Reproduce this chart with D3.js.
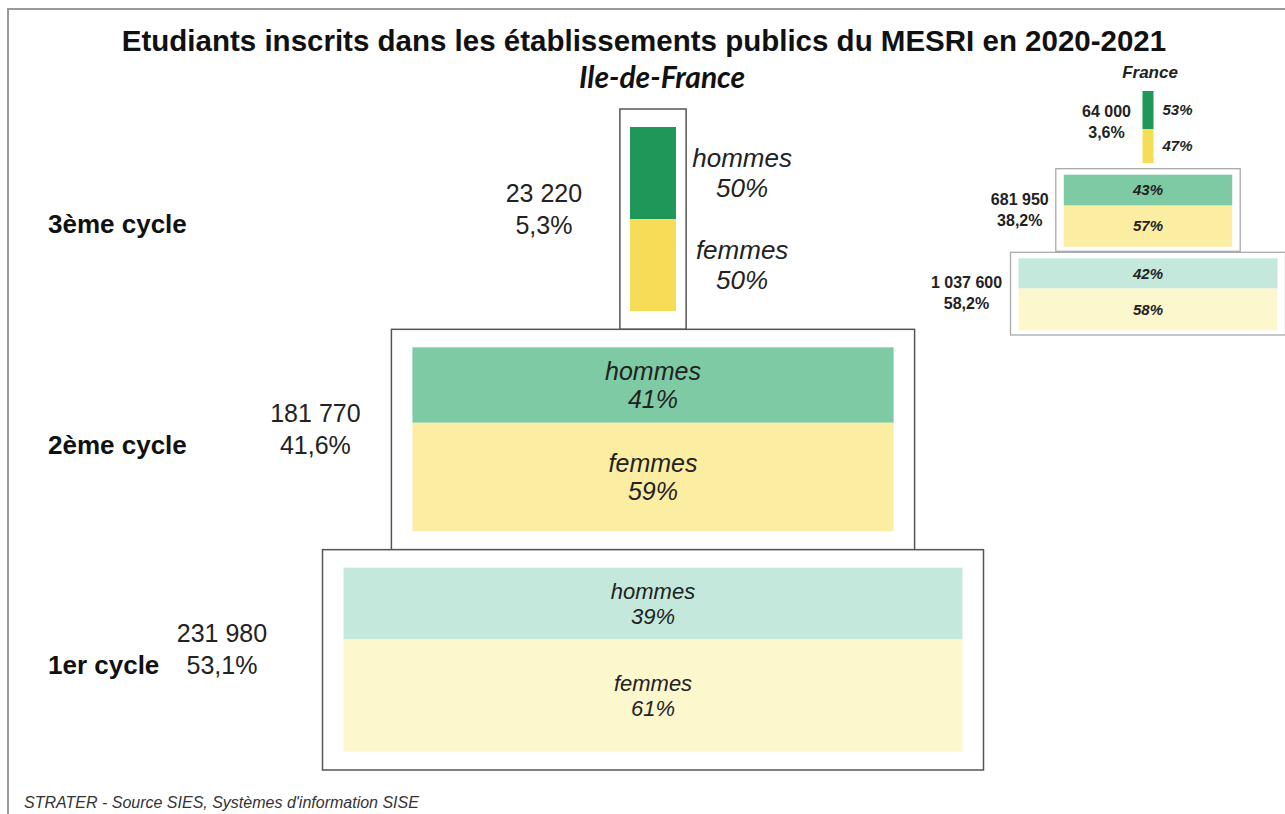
<!DOCTYPE html>
<html>
<head>
<meta charset="utf-8">
<script src="https://cdn.jsdelivr.net/npm/d3@7"></script>
<style>
  html, body { margin: 0; padding: 0; background: #fff; }
  svg { display: block; font-family: "Liberation Sans", Arial, sans-serif; }
</style>
</head>
<body>
<svg id="chart" width="1285" height="814"></svg>
<script>
// ---------- DATA ----------
const levels = ["3ème cycle", "2ème cycle", "1er cycle"];
const idfCounts = [23220, 181770, 231980];
const idfShares = [5.3, 41.6, 53.1];
const idfHommes = [50, 41, 39];
const idfFemmes = [50, 59, 61];
const frCounts = [64000, 681950, 1037600];
const frShares = [3.6, 38.2, 58.2];
const frHommes = [53, 43, 42];
const frFemmes = [47, 57, 58];
const titleText = "Etudiants inscrits dans les établissements publics du MESRI en 2020-2021";
const subtitleText = "Ile-de-France";
const insetTitle = "France";
const sourceText = "STRATER - Source SIES, Systèmes d'information SISE";
const sexLabels = ["hommes", "femmes"];

// ---------- STYLE ----------
const hommesColors = ["#1e9758", "#7dcaa4", "#c4e9dc"];
const femmesColors = ["#f7dc58", "#fbeea3", "#fdf7ce"];

const fr = d3.formatLocale({ decimal: ",", thousands: " ", grouping: [3], currency: ["", " €"] });
const fmtCount = fr.format(",d");
const fmtShare = v => fr.format(".1f")(v) + "%";

const svg = d3.select("#chart");

// outer frame
svg.append("rect").attr("x", 8).attr("y", 9).attr("width", 1300).attr("height", 830)
  .attr("fill", "none").attr("stroke", "#9a9a9a").attr("stroke-width", 2);

// titles
svg.append("text").attr("x", 644).attr("y", 51).attr("text-anchor", "middle")
  .attr("font-size", 29.5).attr("font-weight", "bold").attr("fill", "#111").text(titleText);
svg.append("text").attr("x", 662).attr("y", 88).attr("text-anchor", "middle")
  .attr("font-family", "Lato, 'Open Sans', sans-serif")
  .attr("font-size", 30).attr("font-weight", "bold").attr("font-style", "italic")
  .attr("fill", "#111").text(subtitleText);

// source
svg.append("text").attr("x", 24).attr("y", 808)
  .attr("font-size", 16).attr("font-style", "italic").attr("fill", "#333").text(sourceText);

function rows(counts, shares, hommes, femmes) {
  return levels.map((l, i) => ({ level: l, i, count: counts[i], share: shares[i], h: hommes[i], f: femmes[i] }));
}

// ---------- MAIN PYRAMID (Ile-de-France) ----------
(function () {
  const data = rows(idfCounts, idfShares, idfHommes, idfFemmes);
  const cx = 653;
  const y = d3.scaleBand().domain(levels).range([109, 770]);
  const w = d3.scaleLinear().domain([23220, 231980]).range([46, 619]);
  const innerTop = 18, innerH = 184;
  const split = d3.scaleLinear().domain([0, 100]).range([0, innerH]);

  const g = svg.append("g");
  const row = g.selectAll("g.row").data(data).join("g").attr("class", "row");

  row.each(function (d) {
    const sel = d3.select(this);
    const bw = w(d.count);
    const hpad = Math.min(21, bw * 0.22);
    const x0 = cx - bw / 2;
    const top = y(d.level);
    const boxX = x0 - hpad;
    sel.append("rect").attr("x", boxX).attr("y", top)
      .attr("width", bw + 2 * hpad).attr("height", y.bandwidth())
      .attr("fill", "#fff").attr("stroke", "#555").attr("stroke-width", 1.5);
    const hy = top + innerTop, hh = split(d.h);
    const fy = hy + hh, fh = split(d.f);
    sel.append("rect").attr("x", x0).attr("y", hy).attr("width", bw).attr("height", hh)
      .attr("fill", hommesColors[d.i]);
    sel.append("rect").attr("x", x0).attr("y", fy).attr("width", bw).attr("height", fh)
      .attr("fill", femmesColors[d.i]);

    const fs = d.i === 2 ? 22 : (d.i === 1 ? 25 : 26);
    const outside = bw < 150;
    const tx = outside ? x0 + bw + hpad + 56 : cx;
    [[sexLabels[0], d.h, hy + hh / 2], [sexLabels[1], d.f, fy + fh / 2]].forEach(([lab, v, c]) => {
      const t = sel.append("text").attr("x", tx).attr("y", c).attr("text-anchor", "middle")
        .attr("font-size", fs).attr("font-style", "italic").attr("fill", "#222");
      t.append("tspan").attr("x", tx).attr("dy", "-0.22em").text(lab);
      t.append("tspan").attr("x", tx).attr("dy", "1.15em").text(v + "%");
    });

    // level label
    const mid = top + y.bandwidth() / 2;
    sel.append("text").attr("x", 48).attr("y", mid + 14)
      .attr("font-size", 26).attr("font-weight", "bold").attr("fill", "#111").text(d.level);

    // count and share
    const vx = d.i === 2 ? 222 : boxX - 76;
    const vt = sel.append("text").attr("x", vx).attr("y", mid - 12).attr("text-anchor", "middle")
      .attr("font-size", 25).attr("fill", "#222");
    vt.append("tspan").attr("x", vx).attr("dy", "-0.22em").text(fmtCount(d.count));
    vt.append("tspan").attr("x", vx).attr("dy", "1.28em").text(fmtShare(d.share));
  });
})();

// ---------- INSET (France) ----------
(function () {
  const data = rows(frCounts, frShares, frHommes, frFemmes);
  const cx = 1148;
  const y = d3.scaleBand().domain(levels).range([84, 335]);
  const w = d3.scaleLinear().domain([64000, 1037600]).range([11, 259]);
  const innerTop = 7, innerH = 72;
  const split = d3.scaleLinear().domain([0, 100]).range([0, innerH]);

  svg.append("text").attr("x", 1150).attr("y", 78).attr("text-anchor", "middle")
    .attr("font-size", 17).attr("font-weight", "bold").attr("font-style", "italic")
    .attr("fill", "#222").text(insetTitle);

  const g = svg.append("g");
  g.selectAll("g.row").data(data).join("g").attr("class", "row").each(function (d) {
    const sel = d3.select(this);
    const bw = w(d.count);
    const x0 = cx - bw / 2;
    const top = y(d.level);
    const narrow = bw < 30;
    const hpad = narrow ? 0 : 8;
    if (!narrow) {
      sel.append("rect").attr("x", x0 - hpad).attr("y", top + 1)
        .attr("width", bw + 2 * hpad).attr("height", y.bandwidth() - 1)
        .attr("fill", "#fff").attr("stroke", "#aaa").attr("stroke-width", 1.3);
    }
    const hy = top + innerTop, hh = split(d.h);
    const fy = hy + hh, fh = split(d.f);
    sel.append("rect").attr("x", x0).attr("y", hy).attr("width", bw).attr("height", hh)
      .attr("fill", hommesColors[d.i]);
    sel.append("rect").attr("x", x0).attr("y", fy).attr("width", bw).attr("height", fh)
      .attr("fill", femmesColors[d.i]);

    const tx = narrow ? x0 + bw + 9 : cx;
    const anchor = narrow ? "start" : "middle";
    [[d.h, hy + hh / 2], [d.f, fy + fh / 2]].forEach(([v, c]) => {
      sel.append("text").attr("x", tx).attr("y", c).attr("dy", "0.35em").attr("text-anchor", anchor)
        .attr("font-size", 15).attr("font-weight", "bold").attr("font-style", "italic")
        .attr("fill", "#222").text(v + "%");
    });

    const mid = top + y.bandwidth() / 2;
    const rx = x0 - hpad - (d.i === 2 ? 44 : 36);
    const ct = sel.append("text").attr("x", rx).attr("y", mid - (narrow ? 4 : 0)).attr("text-anchor", "middle")
      .attr("font-size", 16).attr("font-weight", "bold").attr("fill", "#222");
    ct.append("tspan").attr("x", rx).attr("dy", "-0.3em").text(fmtCount(d.count));
    ct.append("tspan").attr("x", rx).attr("dy", "1.3em").text(fmtShare(d.share));
  });
})();
</script>
</body>
</html>
